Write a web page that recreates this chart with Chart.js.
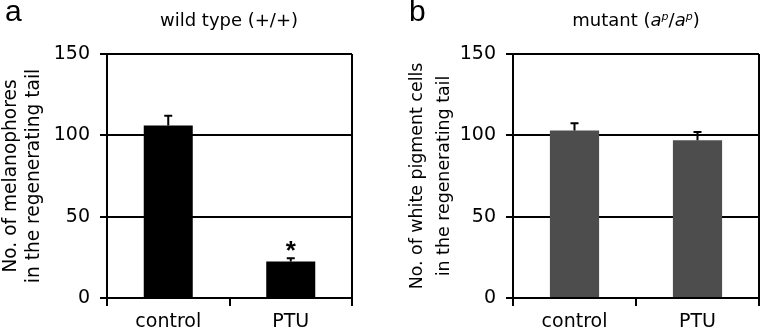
<!DOCTYPE html>
<html>
<head>
<meta charset="utf-8">
<script src="https://cdn.jsdelivr.net/npm/chart.js@4"></script>
<style>
  body { margin: 0; background: #fff; width: 761px; height: 335px; position: relative; overflow: hidden; }
  .panel { position: absolute; top: 0; height: 335px; }
  .letter { position: absolute; top: -6px; font: 30px "Liberation Sans", Arial, sans-serif; }
  .title { position: absolute; top: 9px; font: 18px "DejaVu Sans", sans-serif; text-align: center; white-space: nowrap; transform: translateX(-50%); }
  .title sup { font-size: 11px; vertical-align: 6px; line-height: 0; }
</style>
</head>
<body>
<div class="panel" style="left:0;width:380px"><canvas id="chartA" width="380" height="335"></canvas></div>
<div class="panel" style="left:380px;width:381px"><canvas id="chartB" width="381" height="335"></canvas></div>
<div class="letter" style="left:5px">a</div>
<div class="letter" style="left:409px">b</div>
<div class="title" style="left:229px">wild type (+/+)</div>
<div class="title" style="left:636px">mutant (<i>a<sup>p</sup></i>/<i>a<sup>p</sup></i>)</div>
<script>
const categories = ['control', 'PTU'];
const melanophores = [106, 22.5];
const melanophoresErr = [6, 2];
const whiteCells = [103, 97];
const whiteCellsErr = [4.5, 5];
const yTicks = [0, 50, 100, 150];
const starredA = [false, true];

const errorBars = {
  id: 'errorBars',
  afterDatasetsDraw(chart, args, opts) {
    const c = chart.ctx, y = chart.scales.y;
    const meta = chart.getDatasetMeta(0);
    meta.data.forEach((bar, i) => {
      const v = opts.values[i], e = opts.errors[i];
      const yb = y.getPixelForValue(v), yt = y.getPixelForValue(v + e);
      c.save();
      c.strokeStyle = '#000';
      c.lineWidth = 2;
      c.beginPath();
      c.moveTo(bar.x, yb);
      c.lineTo(bar.x, yt);
      c.moveTo(bar.x - 4, yt);
      c.lineTo(bar.x + 4, yt);
      c.stroke();
      if (opts.stars && opts.stars[i]) {
        c.fillStyle = '#000';
        c.font = 'bold 26px "Liberation Sans", Arial, sans-serif';
        c.textAlign = 'center';
        c.textBaseline = 'alphabetic';
        c.fillText('*', bar.x, yt + 1);
      }
      c.restore();
    });
  }
};

function makeChart(id, values, errors, color, axisTitle, titleSize, titleLine, titlePad, yWidth, padRight, stars) {
  return new Chart(document.getElementById(id), {
    type: 'bar',
    data: {
      labels: categories,
      datasets: [{
        data: values,
        backgroundColor: color,
        borderWidth: 0,
        categoryPercentage: 1,
        barPercentage: 0.4
      }]
    },
    options: {
      responsive: false,
      animation: false,
      layout: { padding: { top: 54, right: padRight, left: 0, bottom: 0 } },
      plugins: {
        legend: { display: false },
        tooltip: { enabled: false },
        errorBars: { values: values, errors: errors, stars: stars }
      },
      scales: {
        x: {
          offset: true,
          afterFit: s => { s.height = 37; },
          grid: {
            offset: true,
            drawOnChartArea: true,
            color: ctx => ctx.type === 'tick' ? 'rgba(0,0,0,0)' : '#000',
            tickColor: '#000',
            lineWidth: 2,
            tickLength: 8
          },
          border: { display: true, color: '#000', width: 2 },
          ticks: {
            color: '#000',
            padding: 5,
            font: { family: 'DejaVu Sans', size: 19 }
          }
        },
        y: {
          min: 0,
          max: 150,
          afterFit: s => { s.width = yWidth; },
          afterBuildTicks: s => { s.ticks = yTicks.map(v => ({ value: v })); },
          grid: { color: '#000', lineWidth: 2, tickLength: 7 },
          border: { display: true, color: '#000', width: 2 },
          ticks: {
            color: '#000',
            padding: 10,
            font: { family: 'DejaVu Sans', size: 19 }
          },
          title: {
            display: true,
            text: axisTitle,
            color: '#000',
            padding: { top: titlePad, bottom: 0 },
            font: { family: 'DejaVu Sans', size: titleSize, lineHeight: titleLine }
          }
        }
      }
    },
    plugins: [errorBars]
  });
}

makeChart('chartA', melanophores, melanophoresErr, '#000',
  ['No. of melanophores', 'in the regenerating tail'], 18.6, '23px', 0, 107, 28, starredA);
makeChart('chartB', whiteCells, whiteCellsErr, '#4d4d4d',
  ['No. of white pigment cells', 'in the regenerating tail'], 17.4, '27px', 24, 133, 2, null);
</script>
</body>
</html>
